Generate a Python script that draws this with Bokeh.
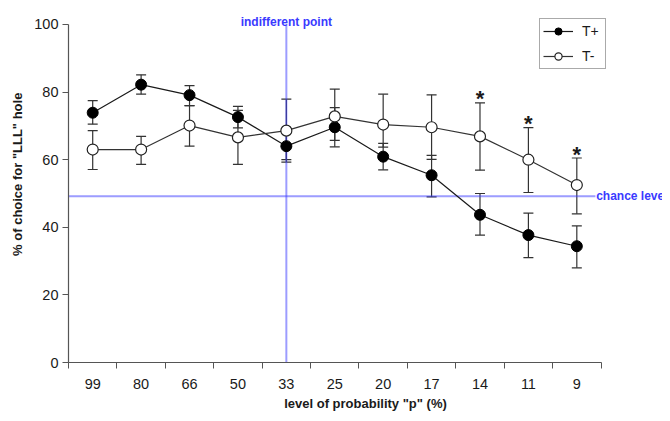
import numpy as np
from bokeh.plotting import figure
from bokeh.models import (ColumnDataSource, Whisker, Label, Legend, LegendItem,
                          FixedTicker, Range1d, TeeHead)
from bokeh.core.properties import value
from bokeh.embed import file_html
from bokeh.resources import INLINE

# ---- data ----
levels = ["99", "80", "66", "50", "33", "25", "20", "17", "14", "11", "9"]
tplus = [73.9, 82.2, 79.1, 72.6, 64.0, 69.6, 60.9, 55.4, 43.7, 37.7, 34.4]
tplus_upper = [77.5, 85.1, 81.9, 75.8, 68.0, 75.4, 64.8, 61.3, 50.0, 44.2, 40.4]
tplus_lower = [70.5, 79.4, 76.0, 69.4, 60.0, 63.8, 57.0, 49.0, 37.7, 31.0, 28.0]
tminus = [63.0, 63.0, 70.1, 66.6, 68.6, 72.8, 70.4, 69.6, 66.9, 60.0, 52.5]
tminus_upper = [68.6, 66.9, 76.0, 74.6, 77.9, 80.9, 79.4, 79.2, 76.8, 69.5, 60.5]
tminus_lower = [57.1, 58.6, 64.0, 58.6, 59.3, 65.7, 63.7, 60.1, 56.9, 50.3, 44.0]
significant = ["14", "11", "9"]
chance_level = 49.2
indifferent_level = "33"
y_ticks = [0, 20, 40, 60, 80, 100]

FONT = "Liberation Sans"
BLUE = "#3a3aff"
INK = "#1a1a1a"
AXIS = "#555555"

n = len(levels)
xs = [i + 0.5 for i in range(n)]
pos = dict(zip(levels, xs))

src_p = ColumnDataSource(dict(x=xs, y=tplus, up=tplus_upper, lo=tplus_lower))
src_m = ColumnDataSource(dict(x=xs, y=tminus, up=tminus_upper, lo=tminus_lower))

p = figure(width=662, height=413, output_backend="svg", toolbar_location=None,
           x_range=Range1d(0, 12.27), y_range=Range1d(0, 107.1),
           min_border_left=68, min_border_right=0, min_border_top=0,
           min_border_bottom=49)
p.outline_line_color = None
p.xgrid.visible = False
p.ygrid.visible = False

# reference lines
p.line([0, n - 0.12], [chance_level, chance_level],
       line_color=BLUE, line_width=2, line_dash="1 1")
p.line([pos[indifferent_level], pos[indifferent_level]], [0, 100],
       line_color=BLUE, line_width=2, line_dash="1 1")

# error bars
for src in (src_p, src_m):
    w = Whisker(source=src, base="x", upper="up", lower="lo",
                line_color="#333333", line_width=1.2,
                upper_head=TeeHead(size=10, line_color="#333333", line_width=1.2),
                lower_head=TeeHead(size=10, line_color="#333333", line_width=1.2))
    p.add_layout(w)

lp = p.line("x", "y", source=src_p, line_color=INK, line_width=1.2)
lm = p.line("x", "y", source=src_m, line_color="#333333", line_width=1.2)
sp = p.scatter("x", "y", source=src_p, size=11, fill_color="black",
               line_color="black")
sm = p.scatter("x", "y", source=src_m, size=11, fill_color="white",
               line_color="#222222", line_width=1.2)

# significance stars
star_x = [pos[s] for s in significant]
star_y = [tminus_upper[levels.index(s)] for s in significant]
p.text(star_x, star_y, text=["*"] * len(star_x), text_align="center",
       text_baseline="alphabetic", y_offset=-4, text_font=value(FONT),
       text_font_size="22px", text_font_style="bold", text_color=INK)

# annotations
p.add_layout(Label(x=pos[indifferent_level], y=100.7, text="indifferent point",
                   text_align="center", text_baseline="alphabetic",
                   text_font=FONT, text_font_size="12px",
                   text_font_style="bold", text_color=BLUE))
p.add_layout(Label(x=n - 0.1, y=chance_level,
                   text="chance level", text_align="left",
                   text_baseline="middle", text_font=FONT,
                   text_font_size="12px", text_font_style="bold",
                   text_color=BLUE))

# axes
p.xaxis.ticker = FixedTicker(ticks=xs, minor_ticks=list(range(n + 1)))
p.xaxis.major_label_overrides = {x: lab for x, lab in zip(xs, levels)}
p.xaxis.bounds = (0, n)
p.xaxis.major_tick_out = 0
p.xaxis.major_tick_in = 0
p.xaxis.minor_tick_out = 6
p.xaxis.minor_tick_in = 0
p.xaxis.minor_tick_line_color = AXIS
p.xaxis.major_label_standoff = 10
p.xaxis.axis_label = 'level of probability "p" (%)'
p.xaxis.axis_label_standoff = 4

p.yaxis.ticker = FixedTicker(ticks=y_ticks)
p.yaxis.bounds = (0, 100)
p.yaxis.major_tick_out = 6
p.yaxis.major_tick_in = 0
p.yaxis.minor_tick_line_color = None
p.yaxis.major_label_standoff = 4
p.yaxis.axis_label = "\u00a0" * 4 + '% of choice for "LLL" hole'
p.yaxis.axis_label_standoff = 6

for ax in (p.xaxis[0], p.yaxis[0]):
    ax.axis_line_color = AXIS
    ax.axis_line_width = 1.2
    ax.major_tick_line_color = AXIS
    ax.major_label_text_font = FONT
    ax.major_label_text_font_size = "14.5px"
    ax.major_label_text_color = INK
    ax.axis_label_text_font = FONT
    ax.axis_label_text_font_size = "13px"
    ax.axis_label_text_font_style = "bold"
    ax.axis_label_text_color = INK

legend = Legend(items=[LegendItem(label="T+", renderers=[lp, sp]),
                       LegendItem(label="T-", renderers=[lm, sm])],
                location=(471, 293), orientation="vertical",
                glyph_width=30, glyph_height=18, label_height=18,
                label_standoff=9, spacing=7, padding=3, margin=0,
                label_text_font=FONT, label_text_font_size="14px",
                label_text_color=INK, border_line_color=AXIS,
                border_line_width=1.2, background_fill_color="white",
                background_fill_alpha=1.0)
p.add_layout(legend)

open("out.html", "w").write(file_html(p, INLINE))
